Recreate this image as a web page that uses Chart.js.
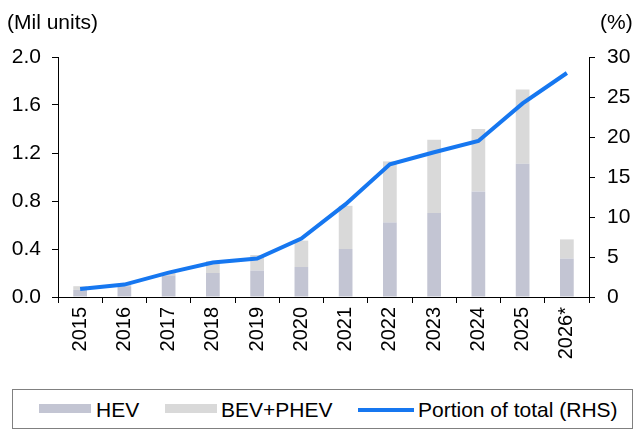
<!DOCTYPE html>
<html><head><meta charset="utf-8">
<script src="https://cdn.jsdelivr.net/npm/chart.js@4/dist/chart.umd.min.js"></script>
<style>
body{margin:0;background:#fff;font-family:"Liberation Sans",Arial,sans-serif;}
#wrap{position:relative;width:637px;height:429px;}
#cv{position:absolute;left:0;top:0;}
.lab{position:absolute;font-size:21px;line-height:24px;color:#000;white-space:nowrap;}
#legend{position:absolute;left:12px;top:389px;width:621px;height:40px;border:1px solid #808080;box-sizing:border-box;font-size:21px;}
.it{position:absolute;top:8px;line-height:24px;white-space:nowrap;}
.sw{position:absolute;}
</style></head><body>
<div id="wrap">
<canvas id="cv" width="637" height="385"></canvas>
<div class="lab" style="left:7px;top:10px;">(Mil units)</div>
<div class="lab" style="left:600px;top:10px;">(%)</div>
<div id="legend">
 <div class="sw" style="left:26px;top:14px;width:52px;height:9px;background:#c3c5d3"></div>
 <div class="it" style="left:83px;">HEV</div>
 <div class="sw" style="left:152px;top:14px;width:52px;height:9px;background:#d9d9d9"></div>
 <div class="it" style="left:208px;">BEV+PHEV</div>
 <div class="sw" style="left:345px;top:18px;width:56px;height:4px;background:#1677f0"></div>
 <div class="it" style="left:405px;">Portion of total (RHS)</div>
</div>
</div>
<script>
const categories = ["2015","2016","2017","2018","2019","2020","2021","2022","2023","2024","2025","2026*"];
const hev = [0.06,0.09,0.18,0.20,0.22,0.25,0.40,0.62,0.70,0.88,1.11,0.32];
const bevPhev = [0.03,0.01,0.02,0.10,0.13,0.22,0.36,0.51,0.61,0.52,0.62,0.16];
const portion = [1.0,1.55,3.05,4.3,4.8,7.3,11.6,16.6,18.1,19.5,24.2,28.0];
const leftTicks = [0,0.4,0.8,1.2,1.6,2.0];
const rightTicks = [0,5,10,15,20,25,30];

const tickFont = {family:"Liberation Sans", size:21};
new Chart(document.getElementById('cv'), {
  data: {
    labels: categories,
    datasets: [
      {type:'line', label:'Portion of total (RHS)', data:portion, yAxisID:'y1', borderColor:'#1677f0', borderWidth:4, pointRadius:0, tension:0, order:0},
      {type:'bar', label:'HEV', data:hev, yAxisID:'y', backgroundColor:'#c3c5d3', barPercentage:0.62, categoryPercentage:0.5, order:1, stack:'s'},
      {type:'bar', label:'BEV+PHEV', data:bevPhev, yAxisID:'y', backgroundColor:'#d9d9d9', barPercentage:0.62, categoryPercentage:0.5, order:1, stack:'s'}
    ]
  },
  options: {
    responsive:false, animation:false,
    layout:{padding:{top:57,left:0,right:0,bottom:0}},
    plugins:{legend:{display:false}, tooltip:{enabled:false}},
    scales:{
      x:{stacked:true, offset:true,
        grid:{display:true, drawOnChartArea:false, color:'#000', tickLength:6, offset:true},
        border:{display:true, color:'#000'},
        ticks:{color:'#000', font:{family:"Liberation Sans", size:20}, minRotation:90, maxRotation:90, padding:4},
        afterFit:(s)=>{s.height=88;}
      },
      y:{position:'left', stacked:true, min:0, max:2.0,
        afterBuildTicks:(s)=>{s.ticks = leftTicks.map(v=>({value:v}));},
        grid:{display:true, drawOnChartArea:false, color:'#000', tickLength:6},
        border:{display:true, color:'#000'},
        ticks:{color:'#000', font:tickFont, padding:11, callback:(v)=>Number(v).toFixed(1)},
        afterFit:(s)=>{s.width=58;}
      },
      y1:{position:'right', min:0, max:30,
        afterBuildTicks:(s)=>{s.ticks = rightTicks.map(v=>({value:v}));},
        grid:{display:true, drawOnChartArea:false, color:'#000', tickLength:6},
        border:{display:true, color:'#000'},
        ticks:{color:'#000', font:tickFont, padding:12},
        afterFit:(s)=>{s.width=48;}
      }
    }
  }
});
</script>
</body></html>
